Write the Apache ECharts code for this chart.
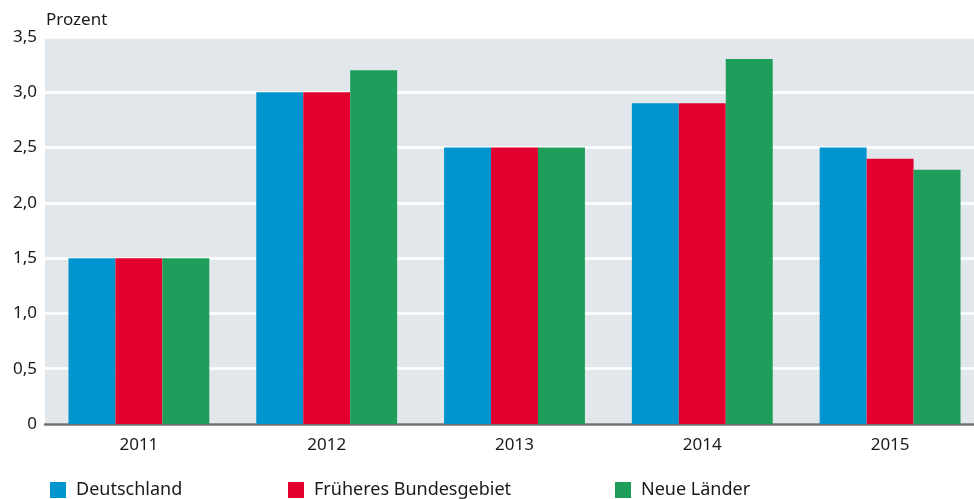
<!DOCTYPE html>
<html>
<head>
<meta charset="utf-8">
<script src="https://cdn.jsdelivr.net/npm/echarts@6/dist/echarts.min.js"></script>
<style>
html,body{margin:0;padding:0;background:#fff;}
#chart{width:974px;height:499px;}
</style>
</head>
<body>
<div id="chart"></div>
<script>
var years = ['2011', '2012', '2013', '2014', '2015'];
var deutschland = [1.5, 3.0, 2.5, 2.9, 2.5];
var frueheres = [1.5, 3.0, 2.5, 2.9, 2.4];
var neueLaender = [1.5, 3.2, 2.5, 3.3, 2.3];
var seriesNames = ['Deutschland', 'Früheres Bundesgebiet', 'Neue Länder'];
var seriesColors = ['#0095cf', '#e2002e', '#1e9e5a'];

var FONT = 'Noto Sans';
var chart = echarts.init(document.getElementById('chart'));

function legendAt(name, left) {
    return {
        data: [name],
        left: left,
        top: 481,
        padding: 0,
        itemWidth: 16,
        itemHeight: 16,
        itemGap: 0,
        icon: 'rect',
        textStyle: { fontFamily: FONT, fontSize: 18, color: '#1a1a1a', padding: [0, 0, 0, 5] }
    };
}

var option = {
    animation: false,
    color: seriesColors,
    grid: {
        left: 45, width: 939, top: 37, bottom: 75,
        outerBoundsMode: 'none', containLabel: false,
        show: true, backgroundColor: '#e2e7eb', borderWidth: 0
    },
    graphic: [{
        type: 'text', left: 46, top: 12,
        style: { text: 'Prozent', font: '17px "Noto Sans"', fill: '#1a1a1a' }
    }],
    legend: [
        legendAt(seriesNames[0], 50),
        legendAt(seriesNames[1], 288),
        legendAt(seriesNames[2], 615)
    ],
    xAxis: {
        type: 'category',
        data: years,
        axisTick: { show: false },
        axisLine: { lineStyle: { color: '#707070', width: 2.5 } },
        axisLabel: { fontFamily: FONT, fontSize: 17, color: '#1a1a1a', margin: 13 }
    },
    yAxis: {
        type: 'value',
        min: 0, max: 3.5, interval: 0.5,
        axisLine: { show: false },
        axisTick: { show: false },
        splitLine: { lineStyle: { color: '#ffffff', width: 2.5 } },
        axisLabel: {
            fontFamily: FONT, fontSize: 17, color: '#1a1a1a', margin: 8,
            formatter: function (v) { return v === 0 ? '0' : v.toFixed(1).replace('.', ','); }
        }
    },
    series: [
        { name: seriesNames[0], type: 'bar', data: deutschland, barGap: '0%', barCategoryGap: '25%' },
        { name: seriesNames[1], type: 'bar', data: frueheres, barGap: '0%', barCategoryGap: '25%' },
        { name: seriesNames[2], type: 'bar', data: neueLaender, barGap: '0%', barCategoryGap: '25%' }
    ]
};

chart.setOption(option);
window.addEventListener('resize', function () { chart.resize(); });
</script>
</body>
</html>
